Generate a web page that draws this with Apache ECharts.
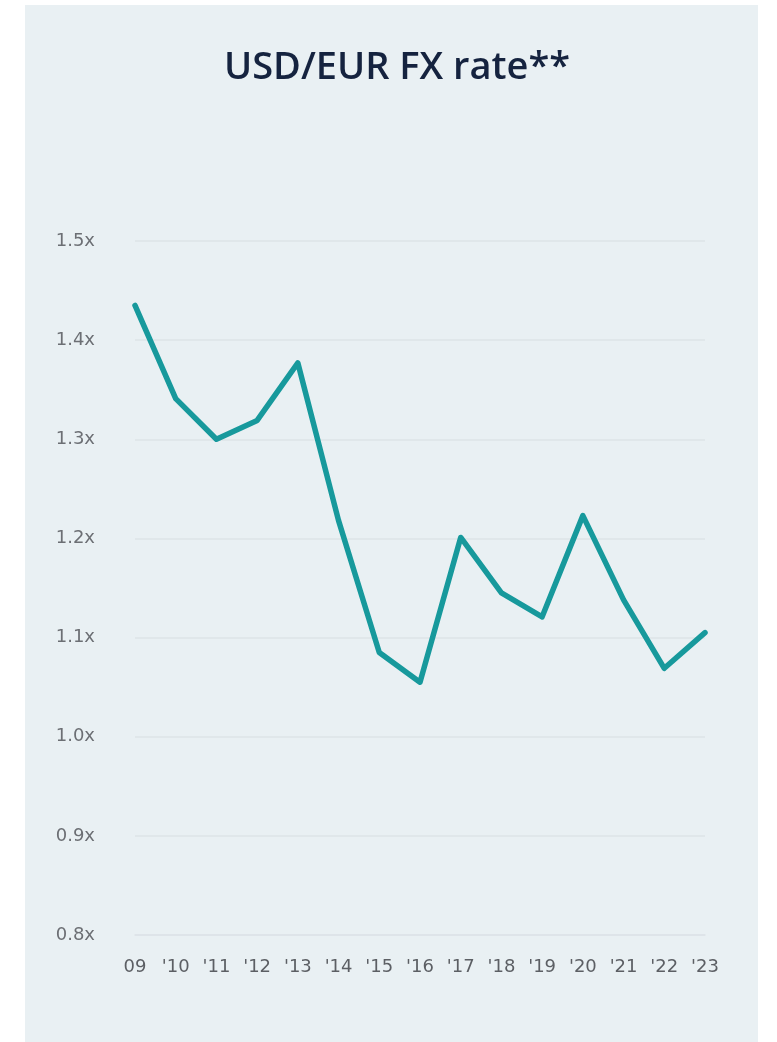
<!DOCTYPE html>
<html>
<head>
<meta charset="utf-8">
<script src="https://cdn.jsdelivr.net/npm/echarts@6/dist/echarts.min.js"></script>
<style>
  html, body { margin: 0; padding: 0; background: #ffffff; }
  #panel { position: absolute; left: 25px; top: 5px; width: 733px; height: 1037px; background: #e9f0f3; }
  #chart { position: absolute; left: 0; top: 0; width: 777px; height: 1042px; }
</style>
</head>
<body>
<div id="panel"></div>
<div id="chart"></div>
<script>
// Year labels along the bottom axis
const years = ["09", "'10", "'11", "'12", "'13", "'14", "'15", "'16", "'17", "'18", "'19", "'20", "'21", "'22", "'23"];
// Annual USD per EUR rate
const fxRate = [1.435, 1.341, 1.300, 1.319, 1.377, 1.218, 1.085, 1.055, 1.201, 1.145, 1.121, 1.223, 1.138, 1.069, 1.105];
// Value axis range
const yMin = 0.8, yMax = 1.5, yStep = 0.1;
const titleText = 'USD/EUR FX rate**';

const chart = echarts.init(document.getElementById('chart'), null, { renderer: 'canvas' });
chart.setOption({
  backgroundColor: 'transparent',
  animation: false,
  graphic: [{
    type: 'text',
    x: 397,
    y: 68,
    style: {
      text: titleText,
      align: 'center',
      verticalAlign: 'middle',
      fontFamily: 'Open Sans',
      fontWeight: 600,
      fontSize: 38,
      fill: '#15233f'
    }
  }],
  grid: { left: 135, right: 72, top: 241, bottom: 107 },
  xAxis: {
    type: 'category',
    data: years,
    boundaryGap: false,
    axisLine: { show: true, lineStyle: { color: '#dde4e7', width: 1.5 } },
    axisTick: { show: false },
    axisLabel: {
      margin: 23,
      fontFamily: 'DejaVu Sans',
      fontSize: 18,
      color: '#5c5f64',
      interval: 0
    },
    splitLine: { show: false }
  },
  yAxis: {
    type: 'value',
    min: yMin,
    max: yMax,
    interval: yStep,
    axisLine: { show: false },
    axisTick: { show: false },
    axisLabel: {
      margin: 40,
      fontFamily: 'DejaVu Sans',
      fontSize: 18,
      color: '#6c6f74',
      formatter: v => v.toFixed(1) + 'x'
    },
    splitLine: { lineStyle: { color: '#dde4e7', width: 1.5 } }
  },
  series: [{
    type: 'line',
    data: fxRate,
    symbol: 'none',
    lineStyle: { color: '#17999c', width: 5.5, cap: 'round', join: 'round' }
  }]
});
</script>
</body>
</html>
